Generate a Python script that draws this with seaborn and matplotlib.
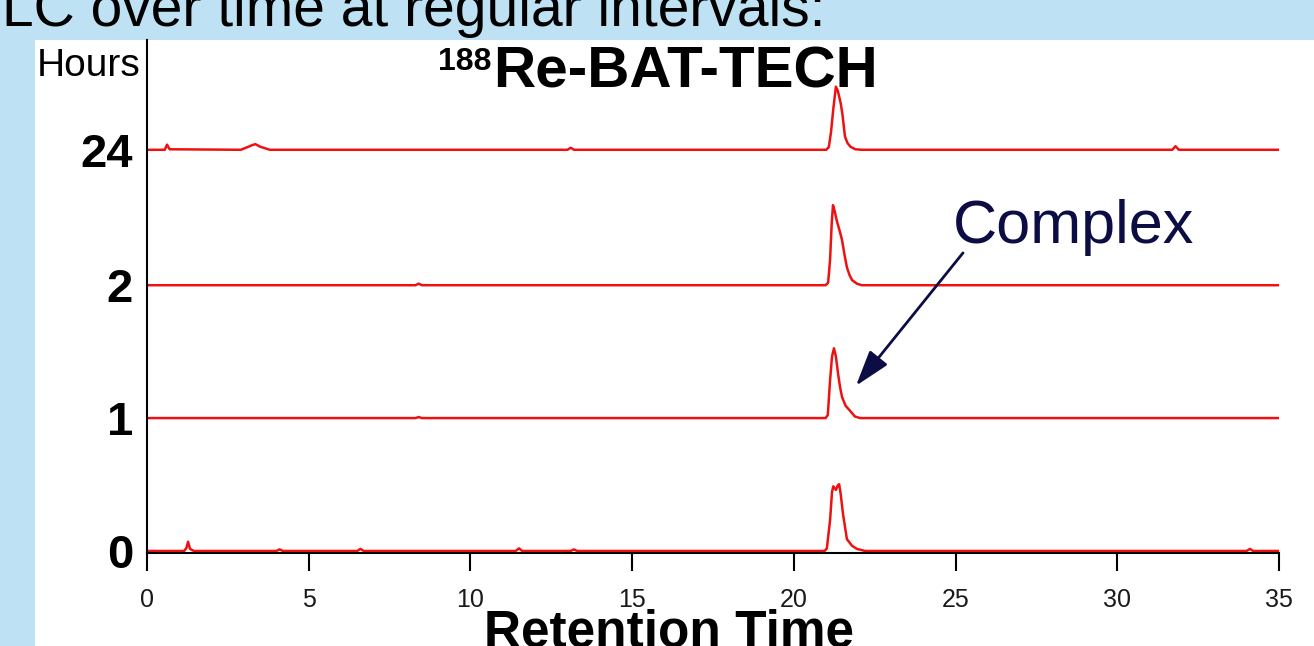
import numpy as np
import pandas as pd
import matplotlib
matplotlib.use("Agg")
import matplotlib.pyplot as plt
from matplotlib import font_manager
from matplotlib.patches import Rectangle
import seaborn as sns

# ---------------- data ----------------
hours_labels = ["0", "1", "2", "24"]

# retention time (min) / signal above each trace's own baseline (relative units)
t_0h = [0.0, 1.15, 1.22, 1.27, 1.33, 1.45, 4.0, 4.1, 4.2, 6.5, 6.6, 6.7, 11.4, 11.5, 11.6,
        13.1, 13.2, 13.3, 20.95, 21.02, 21.12, 21.18, 21.22, 21.3, 21.36, 21.4, 21.45,
        21.52, 21.64, 21.8, 21.95, 22.2, 34.0, 34.1, 34.2, 35.0]
y_0h = [0.0, 0.0, 0.6, 1.8, 0.4, 0.0, 0.0, 0.3, 0.0, 0.0, 0.4, 0.0, 0.0, 0.5, 0.0,
        0.0, 0.3, 0.0, 0.0, 0.5, 6.0, 11.5, 12.6, 11.9, 12.8, 13.0, 11.0,
        7.2, 2.3, 1.0, 0.4, 0.0, 0.0, 0.4, 0.0, 0.0]

t_1h = [0.0, 8.3, 8.4, 8.5, 20.98, 21.05, 21.12, 21.18, 21.24, 21.3, 21.37, 21.43,
        21.49, 21.6, 21.74, 21.89, 22.05, 35.0]
y_1h = [0.0, 0.0, 0.2, 0.0, 0.0, 0.6, 7.4, 12.0, 13.6, 12.0, 8.5, 6.0,
        4.1, 2.4, 1.4, 0.3, 0.0, 0.0]

t_2h = [0.0, 8.3, 8.4, 8.5, 20.98, 21.06, 21.12, 21.17, 21.21, 21.26, 21.33, 21.42,
        21.49, 21.57, 21.64, 21.72, 21.8, 21.95, 22.1, 35.0]
y_2h = [0.0, 0.0, 0.3, 0.0, 0.0, 0.5, 5.0, 12.0, 15.6, 14.5, 12.5, 10.5,
        8.8, 5.8, 3.5, 2.0, 1.0, 0.3, 0.0, 0.0]

t_24h = [0.0, 0.55, 0.62, 0.7, 2.9, 3.1, 3.25, 3.35, 3.5, 3.8, 13.0, 13.1, 13.2,
         21.0, 21.08, 21.15, 21.22, 21.3, 21.36, 21.45, 21.5, 21.58, 21.66, 21.75,
         21.9, 22.1, 31.7, 31.8, 31.9, 35.0]
y_24h = [0.0, 0.0, 1.0, 0.1, 0.0, 0.5, 0.9, 1.1, 0.6, 0.0, 0.0, 0.4, 0.0,
         0.0, 0.5, 3.5, 8.0, 12.3, 11.5, 9.0, 7.0, 2.6, 1.3, 0.6,
         0.1, 0.0, 0.0, 0.7, 0.0, 0.0]

x_ticks = [0, 5, 10, 15, 20, 25, 30, 35]

# ---------------- layout ----------------
W, H = 1314, 646
baseline_offsets = [0.4, 26.3, 52.2, 78.6]   # vertical stacking of the traces

names = {f.name for f in font_manager.fontManager.ttflist}
narrow = "Liberation Sans Narrow" if "Liberation Sans Narrow" in names else "Liberation Sans"

sns.set_style("white")
plt.rcParams["font.family"] = ["Liberation Sans", "DejaVu Sans"]
plt.rcParams["text.color"] = "black"
plt.rcParams["axes.labelcolor"] = "black"
plt.rcParams["xtick.color"] = "black"
plt.rcParams["ytick.color"] = "black"

frames = []
for lab, off, t, y in zip(hours_labels, baseline_offsets,
                          [t_0h, t_1h, t_2h, t_24h], [y_0h, y_1h, y_2h, y_24h]):
    frames.append(pd.DataFrame({"time": t, "signal": np.array(y) + off, "hours": lab}))
df = pd.concat(frames, ignore_index=True)

fig = plt.figure(figsize=(W / 100, H / 100), dpi=100, facecolor="#BEE1F3")
fig.add_artist(Rectangle((35 / W, 0), 1 - 35 / W, 1 - 40 / H, transform=fig.transFigure,
                         facecolor="white", edgecolor="none", zorder=-1))

ax = fig.add_axes([147 / W, 93 / H, 1132 / W, 513 / H])
ax.set_facecolor("none")

sns.lineplot(data=df, x="time", y="signal", hue="hours", units="hours", estimator=None,
             palette=["#EE1111"] * 4, linewidth=1.8, legend=False, sort=False, ax=ax)

ax.set_xlim(0, 35)
ax.set_ylim(0, 100)
for s in ["top", "right"]:
    ax.spines[s].set_visible(False)
for s in ["left", "bottom"]:
    ax.spines[s].set_color("black")
    ax.spines[s].set_linewidth(1.5)

ax.set_xticks(x_ticks)
ax.set_xticklabels([str(v) for v in x_ticks])
ax.tick_params(axis="x", direction="out", length=13, width=1.5, labelsize=18, pad=12,
               color="black", labelcolor="#1a1a1a", bottom=True)
ax.set_yticks(baseline_offsets)
ax.set_yticklabels(hours_labels, fontsize=34, fontweight="bold", color="black")
ax.tick_params(axis="y", length=0, pad=10, left=True)

ax.set_xlabel("Retention Time", fontsize=37, fontweight="bold", color="black")
ax.xaxis.set_label_coords(0.4607, -0.1832)
ax.xaxis.label.set_va("baseline")

ax.set_ylabel("Hours", rotation=0, fontsize=28 if narrow == "Liberation Sans" else 31,
              family=narrow, color="black")
ax.yaxis.set_label_coords(-0.0512, 0.9493)
ax.yaxis.label.set_va("center")
ax.yaxis.label.set_ha("center")

# slide header (cut at the top like the reference)
fig.text(2 / W, 1 - 26 / H, "LC over time at regular intervals:", fontsize=41,
         ha="left", va="baseline", color="black")

# chart title
fig.text(493 / W, 1 - 88 / H, "Re-BAT-TECH", fontsize=42, fontweight="bold",
         ha="left", va="baseline", color="black")
fig.text(492 / W, 1 - 70 / H, "188", fontsize=23, fontweight="bold",
         ha="right", va="baseline", color="black")

# annotation
navy = "#0D0D45"
ax.text(24.92, 60.4, "Complex", fontsize=44, color=navy, ha="left", va="baseline")
ax.annotate("", xy=(21.92, 32.6), xytext=(25.23, 58.5),
            arrowprops=dict(arrowstyle="-|>,head_length=1.1,head_width=0.35",
                            color=navy, lw=2, mutation_scale=20, shrinkA=0, shrinkB=0))

fig.savefig("out.png", dpi=100)
